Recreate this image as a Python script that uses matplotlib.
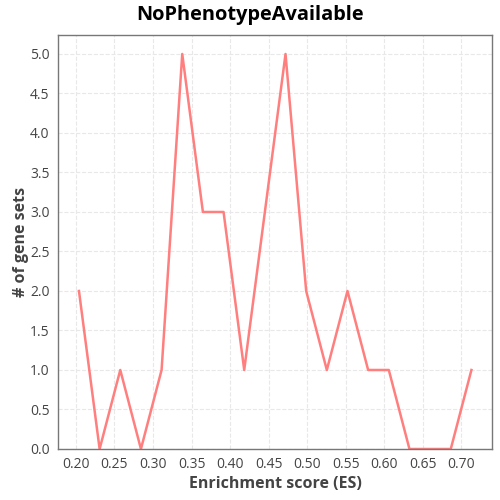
import matplotlib
matplotlib.use("Agg")
import matplotlib.pyplot as plt

plt.rcParams['font.family'] = ['Open Sans', 'DejaVu Sans']

# enrichment score bins and gene set counts
es = [0.2039, 0.2307, 0.2575, 0.2843, 0.3111, 0.3379, 0.3647, 0.3915,
      0.4183, 0.4451, 0.4719, 0.4987, 0.5255, 0.5523, 0.5791, 0.6059,
      0.6327, 0.6595, 0.6863, 0.7131]
counts = [2, 0, 1, 0, 1, 5, 3, 3, 1, 3, 5, 2, 1, 2, 1, 1, 0, 0, 0, 1]
xticks = [0.20, 0.25, 0.30, 0.35, 0.40, 0.45, 0.50, 0.55, 0.60, 0.65, 0.70]
yticks = [0.0, 0.5, 1.0, 1.5, 2.0, 2.5, 3.0, 3.5, 4.0, 4.5, 5.0]

fig = plt.figure(figsize=(5, 5), dpi=100)
ax = fig.add_axes([0.116, 0.102, 0.868, 0.828])

ax.plot(es, counts, color='#ff7f7f', lw=1.8)

ax.set_xlim(0.1767, 0.7398)
ax.set_ylim(0, 5.24)
ax.set_xticks(xticks)
ax.set_xticklabels(['%.2f' % v for v in xticks])
ax.set_yticks(yticks)
ax.set_yticklabels(['%.1f' % v for v in yticks])
ax.tick_params(length=0, labelsize=10, colors='#444444', pad=6)
ax.grid(True, ls='--', color='#e8e8e8', lw=0.8)
ax.set_axisbelow(True)
for s in ax.spines.values():
    s.set_color('#777777')
    s.set_linewidth(1)

fig.suptitle('NoPhenotypeAvailable', x=0.5, y=0.99, fontsize=14.4, fontweight='bold')
ax.set_xlabel('Enrichment score (ES)', fontsize=11.5, fontweight='bold', color='#444444', labelpad=3)
ax.set_ylabel('# of gene sets', fontsize=11.5, fontweight='bold', color='#444444')
ax.yaxis.set_label_coords(-0.066, 0.5)

fig.savefig('out.png', dpi=100)
